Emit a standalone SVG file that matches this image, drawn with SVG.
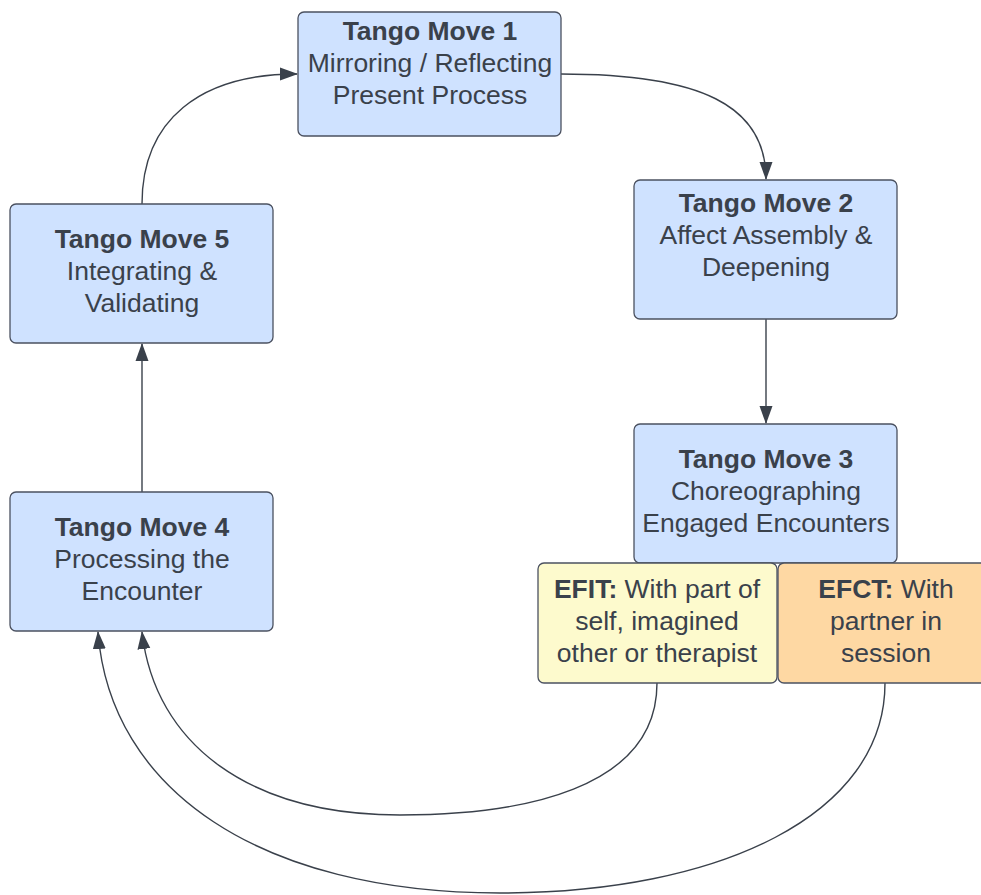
<svg xmlns="http://www.w3.org/2000/svg" width="981" height="895" viewBox="0 0 981 895">
  <style>
    .box { fill: #cfe2ff; stroke: #4b5160; stroke-width: 1.3; }
    .efit { fill: #fdfacd; stroke: #4b5160; stroke-width: 1.3; }
    .efct { fill: #fed8a3; stroke: #4b5160; stroke-width: 1.3; }
    text { font-family: "Liberation Sans", Arial, sans-serif; font-size: 26.5px; fill: #3a414b; text-anchor: middle; }
    .b { font-weight: bold; }
    .edge { fill: none; stroke: #3a414b; stroke-width: 1.4; marker-end: url(#arrow); }
  </style>
  <defs>
    <marker id="arrow" viewBox="0 0 18 14" refX="17" refY="7" markerWidth="18" markerHeight="14" markerUnits="userSpaceOnUse" orient="auto">
      <path d="M0,0.5 L18,7 L0,13.5 Z" fill="#3a414b"/>
    </marker>
  </defs>

  <g id="connectors">
    <path class="edge" d="M142,204 C142,120 200,74 297,74"/>
    <path class="edge" d="M561,74 C700,74 766,105 766,179"/>
    <path class="edge" d="M766,319 L766,423"/>
    <path class="edge" d="M142,492 L142,344"/>
    <path class="edge" d="M657,683 C657,790 520,815 400,815 C250,815 155,745 142,632"/>
    <path class="edge" d="M885,683 C885,815 720,893 500,893 C260,893 110,790 98,632"/>
  </g>

  <g id="move1">
    <rect class="box" x="298" y="12" width="263" height="124" rx="6"/>
    <text x="430" y="40" class="b">Tango Move 1</text>
    <text x="430" y="72">Mirroring / Reflecting</text>
    <text x="430" y="104">Present Process</text>
  </g>
  <g id="move2">
    <rect class="box" x="634" y="180" width="263" height="139" rx="6"/>
    <text x="766" y="212" class="b">Tango Move 2</text>
    <text x="766" y="244">Affect Assembly &amp;</text>
    <text x="766" y="276">Deepening</text>
  </g>
  <g id="move3">
    <rect class="box" x="634" y="424" width="263" height="139" rx="6"/>
    <text x="766" y="468" class="b">Tango Move 3</text>
    <text x="766" y="500">Choreographing</text>
    <text x="766" y="532">Engaged Encounters</text>
  </g>
  <g id="move4">
    <rect class="box" x="10" y="492" width="263" height="139" rx="6"/>
    <text x="142" y="536" class="b">Tango Move 4</text>
    <text x="142" y="568">Processing the</text>
    <text x="142" y="600">Encounter</text>
  </g>
  <g id="move5">
    <rect class="box" x="10" y="204" width="263" height="139" rx="6"/>
    <text x="142" y="248" class="b">Tango Move 5</text>
    <text x="142" y="280">Integrating &amp;</text>
    <text x="142" y="312">Validating</text>
  </g>
  <g id="efit">
    <rect class="efit" x="538" y="563" width="239" height="120" rx="6"/>
    <text x="657" y="598"><tspan class="b">EFIT:</tspan> With part of</text>
    <text x="657" y="630">self, imagined</text>
    <text x="657" y="662">other or therapist</text>
  </g>
  <g id="efct">
    <rect class="efct" x="778" y="563" width="216" height="120" rx="6"/>
    <text x="886" y="598"><tspan class="b">EFCT:</tspan> With</text>
    <text x="886" y="630">partner in</text>
    <text x="886" y="662">session</text>
  </g>
</svg>
